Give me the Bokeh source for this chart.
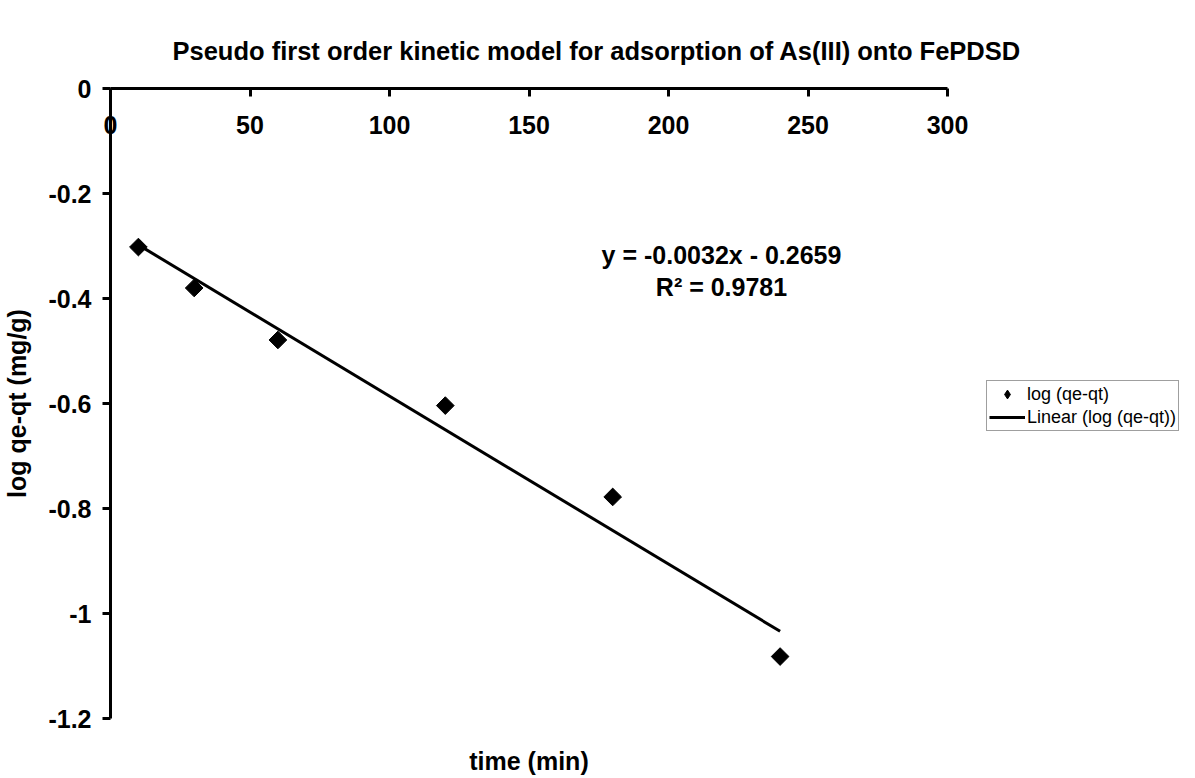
import math
from bokeh.plotting import figure
from bokeh.models import (LinearAxis, FixedTicker, Legend, LegendItem, Label,
                          Title, ColumnDataSource)
from bokeh.embed import file_html
from bokeh.resources import INLINE

# ---- data ----
time_min = [10, 30, 60, 120, 180, 240]
log_qe_qt = [-0.302, -0.380, -0.479, -0.604, -0.778, -1.082]
slope = -0.0032
intercept = -0.2659
r_squared = 0.9781
x_ticks = [0, 50, 100, 150, 200, 250, 300]
y_ticks = [0, -0.2, -0.4, -0.6, -0.8, -1.0, -1.2]
y_tick_labels = ["0", "-0.2", "-0.4", "-0.6", "-0.8", "-1", "-1.2"]

FONT = "Liberation Sans"
FS = "25px"

p = figure(frame_width=837, frame_height=630, x_range=(0, 300), y_range=(-1.2, 0),
           output_backend="svg", toolbar_location=None,
           x_axis_location=None, y_axis_location=None,
           min_border_left=103, min_border_top=88,
           min_border_right=239, min_border_bottom=52)
p.xgrid.visible = False
p.ygrid.visible = False
p.outline_line_color = None
p.background_fill_color = "white"
p.border_fill_color = "white"

# y axis (left)
yaxis = LinearAxis(ticker=FixedTicker(ticks=y_ticks),
                   major_label_overrides={t: l for t, l in zip(y_ticks, y_tick_labels)},
                   axis_line_width=3, major_tick_line_width=3,
                   major_tick_in=0, major_tick_out=8, minor_tick_out=0, minor_tick_in=0,
                   major_label_standoff=11,
                   major_label_text_font=FONT, major_label_text_font_style="bold",
                   major_label_text_font_size=FS, major_label_text_color="black",
                   axis_label="log qe-qt (mg/g)", axis_label_text_font=FONT,
                   axis_label_text_font_style="bold", axis_label_text_font_size=FS,
                   axis_label_text_color="black", axis_label_standoff=14)
p.add_layout(yaxis, "left")

# x axis (top, at y = 0), labels drawn beneath the line
xaxis = LinearAxis(ticker=FixedTicker(ticks=x_ticks),
                   axis_line_width=3, major_tick_line_width=3,
                   major_tick_in=8, major_tick_out=0, minor_tick_out=0, minor_tick_in=0,
                   major_label_standoff=-45,
                   major_label_text_font=FONT, major_label_text_font_style="bold",
                   major_label_text_font_size=FS, major_label_text_color="black")
p.add_layout(xaxis, "above")

# x axis title at the bottom
xlab = LinearAxis(ticker=FixedTicker(ticks=[]), axis_line_color=None,
                  major_tick_line_color=None, minor_tick_line_color=None,
                  major_tick_in=0, major_tick_out=0, major_label_standoff=0,
                  major_label_text_font_size="0px",
                  axis_label="time (min)", axis_label_text_font=FONT,
                  axis_label_text_font_style="bold", axis_label_text_font_size=FS,
                  axis_label_text_color="black", axis_label_standoff=28)
p.add_layout(xlab, "below")

title = Title(text="Pseudo first order kinetic model for adsorption of As(III) onto FePDSD",
              text_font=FONT, text_font_style="bold", text_font_size="25.5px",
              text_color="black", align="left", offset=62, standoff=47)
p.add_layout(title, "above")

src = ColumnDataSource(data=dict(x=time_min, y=log_qe_qt))
# small diamonds (hidden beneath the main markers) provide the legend swatch
pts_key = p.scatter("x", "y", source=src, marker="diamond", size=10,
                    fill_color="black", line_color="black")
pts = p.scatter("x", "y", source=src, marker="square", size=12.5,
                angle=math.pi / 4, fill_color="black", line_color="black")

trend_x = [time_min[0], time_min[-1]]
trend_y = [slope * v + intercept for v in trend_x]
ln = p.line(trend_x, trend_y, line_color="black", line_width=3)

eq1 = Label(x=219, y=-0.318, text=f"y = {slope}x - {abs(intercept)}",
            text_font=FONT, text_font_style="bold", text_font_size=FS,
            text_color="black", text_align="center", text_baseline="middle")
eq2 = Label(x=219, y=-0.379, text=f"R² = {r_squared}",
            text_font=FONT, text_font_style="bold", text_font_size=FS,
            text_color="black", text_align="center", text_baseline="middle")
p.add_layout(eq1)
p.add_layout(eq2)

legend = Legend(items=[LegendItem(label="log (qe-qt)", renderers=[pts_key]),
                       LegendItem(label="Linear (log (qe-qt))", renderers=[ln])],
                location=(39, 287), orientation="vertical",
                label_text_font=FONT, label_text_font_size="18px",
                label_text_color="black",
                label_standoff=2, glyph_width=36, glyph_height=22,
                label_height=20, spacing=1, padding=2, margin=0,
                border_line_color="#404040", border_line_width=1,
                background_fill_alpha=1.0)
p.add_layout(legend, "right")

open("out.html", "w").write(file_html(p, INLINE))
